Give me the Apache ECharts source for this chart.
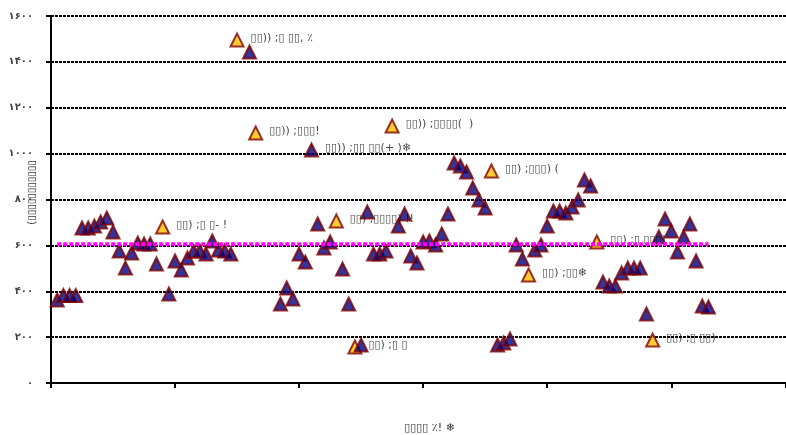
<!DOCTYPE html>
<html>
<head>
<meta charset="utf-8">
<script src="https://cdn.jsdelivr.net/npm/echarts@6/dist/echarts.min.js"></script>
<style>
  html, body { margin: 0; padding: 0; background: #fff; }
  #chart { width: 786px; height: 435px; }
</style>
</head>
<body>
<div id="chart"></div>
<script>
// Sample positions along the run (x) and measured values (y)
const sampleIndex = [
  1, 2, 3, 4, 5, 6, 7, 8, 9, 10,
  11, 12, 13, 14, 15, 16, 17, 18, 19, 20,
  21, 22, 23, 24, 25, 26, 27, 28, 29, 30,
  32, 33, 37, 38, 39, 40, 41, 42, 43, 44,
  45, 46, 47, 48, 49, 50, 51, 52, 53, 54,
  55, 56, 57, 58, 59, 60, 61, 62, 63, 64,
  65, 66, 67, 68, 69, 70, 71, 72, 73, 74,
  75, 76, 77, 78, 79, 80, 81, 82, 83, 84,
  85, 86, 87, 88, 89, 90, 91, 92, 93, 94,
  95, 96, 97, 98, 99, 100, 101, 102, 103, 104,
  105, 106
];
const sampleValue = [
  362, 381, 381, 381, 676, 676, 684, 702, 719, 658,
  575, 501, 567, 610, 606, 606, 519, 680, 388, 532,
  493, 545, 575, 575, 562, 619, 580, 575, 562, 1495,
  1443, 1090, 344, 414, 366, 562, 527, 1016, 693, 589,
  615, 706, 497, 344, 157, 166, 746, 562, 562, 575,
  1120, 684, 737, 554, 523, 615, 619, 602, 650, 737,
  959, 946, 920, 850, 798, 763, 924, 166, 174, 192,
  602, 541, 471, 580, 602, 684, 750, 750, 741, 767,
  798, 885, 859, 615, 440, 423, 423, 480, 501, 501,
  501, 301, 187, 637, 715, 663, 571, 637, 693, 532,
  336, 331
];
// Highlighted samples (drawn in yellow)
const highlighted = [18, 30, 33, 46, 49, 55, 71, 77, 88, 97];
// Annotation text per sample
const noteIndex = [18, 30, 33, 42, 46, 49, 55, 71, 77, 88, 97];
const noteText = [
  "▯▯) ;▯ ▯- !",
  "▯▯)) ;▯ ▯▯, ٪",
  "▯▯)) ;▯▯▯!",
  "▯▯)) ;▯▯ ▯▯(+ )❄",
  "▯▯) ,▯▯▯▯) !!",
  "▯▯) ;▯ ▯",
  "▯▯)) ;▯▯▯▯(  )",
  "▯▯) ;▯▯▯) (",
  "▯▯) ;▯▯❄",
  "▯▯) ;▯ ▯▯▯!",
  "▯▯) ;▯ ▯▯)"
];
// Reference level drawn across the run
const referenceLevel = 605;
// Axis tick labels
const yTickLabels = ["۰", "۲۰۰", "۴۰۰", "۶۰۰", "۸۰۰", "۱۰۰۰", "۱۲۰۰", "۱۴۰۰", "۱۶۰۰"];
const xAxisName = "▯▯▯▯ ٪! ❄";
const yAxisName = "(▯▯▯▯▯▯▯▯▯▯▯";

const chart = echarts.init(document.getElementById('chart'), null, { renderer: 'canvas' });

const points = sampleIndex.map((x, i) => {
  const item = { value: [x, sampleValue[i]] };
  if (highlighted.includes(x)) {
    item.itemStyle = { color: '#ffc000' };
  }
  const n = noteIndex.indexOf(x);
  if (n >= 0) {
    item.label = { show: true, formatter: noteText[n] };
  }
  return item;
});

// Horizontal reference line spanning the first to the last sample
const firstX = sampleIndex[0];
const lastX = sampleIndex[sampleIndex.length - 1];
const refLine = Array.from({ length: lastX - firstX + 1 }, (_, k) => [firstX + k, referenceLevel]);

chart.setOption({
  animation: false,
  grid: { left: 51, right: 0, top: 16, bottom: 52, containLabel: false, outerBoundsMode: 'none' },
  xAxis: {
    type: 'value',
    min: 0,
    max: 118.5,
    interval: 20,
    name: xAxisName,
    nameLocation: 'middle',
    nameGap: 40,
    nameMoveOverlap: false,
    nameTextStyle: { fontFamily: 'DejaVu Sans', fontSize: 11, color: '#333', padding: [0, 0, 0, 22] },
    axisLine: { show: true, onZero: false, lineStyle: { color: '#000', width: 2 } },
    axisTick: { show: true, length: 5, lineStyle: { color: '#000', width: 2 } },
    axisLabel: { show: false },
    splitLine: { show: false }
  },
  yAxis: {
    type: 'value',
    min: 0,
    max: 1600,
    interval: 200,
    name: yAxisName,
    nameLocation: 'middle',
    nameGap: 14,
    nameRotate: 90,
    nameMoveOverlap: false,
    nameTextStyle: { fontFamily: 'DejaVu Sans', fontSize: 10, color: '#333', padding: [0, 0, 0, 14] },
    axisLine: { show: true, lineStyle: { color: '#000', width: 2 } },
    axisTick: { show: true, length: 5, lineStyle: { color: '#000', width: 2 } },
    axisLabel: {
      margin: 18,
      fontFamily: 'DejaVu Sans',
      fontSize: 10,
      fontWeight: 'bold',
      color: '#444',
      formatter: (v) => yTickLabels[Math.round(v / 200)]
    },
    splitLine: { show: true, lineStyle: { color: '#000', width: 2, type: [3, 1] } }
  },
  series: [
    {
      type: 'scatter',
      symbol: 'triangle',
      symbolSize: [13, 13],
      data: points,
      itemStyle: { color: '#000080', borderColor: '#800000', borderWidth: 2 },
      label: {
        show: false,
        position: 'right',
        distance: 6,
        offset: [0, -2],
        fontFamily: 'DejaVu Sans',
        fontSize: 11,
        color: '#111'
      },
      z: 2
    },
    {
      type: 'line',
      data: refLine,
      showSymbol: false,
      lineStyle: { color: '#ff00ff', width: 4, type: [4, 2] },
      z: 3,
      silent: true
    }
  ]
});
</script>
</body>
</html>
